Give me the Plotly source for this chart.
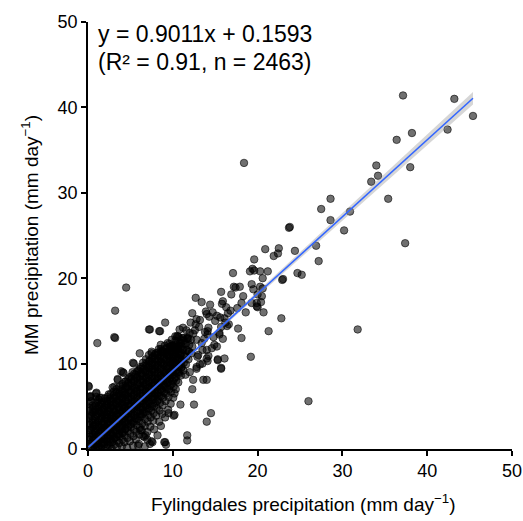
import numpy as np
import plotly.graph_objects as go

# ---- data (Fylingdales vs MM precipitation, mm/day) ----
# dense core of the cloud, as (Fylingdales, MM) pairs
core_pts = [
    (0.05,0.3),(0.15,1.1),(0.1,1.9),(0.2,2.8),(0.12,3.6),(0.25,4.5),(0.08,5.3),(0.3,6.2),(0.05,7.4),
    (0.4,0.1),(0.45,0.7),(0.5,1.5),(0.38,2.3),(0.55,3.1),(0.42,3.9),(0.6,4.8),(0.35,5.6),
    (0.7,0.4),(0.75,1.2),(0.8,2.0),(0.68,2.7),(0.85,3.5),(0.72,4.3),(0.9,5.1),(0.95,6.5),
    (1.0,0.1),(1.05,0.8),(1.1,1.6),(0.98,2.4),(1.15,3.2),(1.02,4.0),(1.2,4.7),(1.1,5.6),
    (1.3,0.3),(1.35,1.0),(1.4,1.9),(1.28,2.7),(1.45,3.5),(1.32,4.4),(1.5,5.2),(1.38,6.0),
    (1.6,0.0),(1.65,0.7),(1.7,1.4),(1.58,2.2),(1.75,3.0),(1.62,3.8),(1.8,4.6),(1.68,5.4),
    (1.9,0.5),(1.95,1.2),(2.0,2.0),(1.88,2.8),(2.05,3.6),(1.92,4.3),(2.1,5.1),(1.98,5.9),
    (2.2,0.1),(2.25,0.9),(2.3,1.7),(2.18,2.5),(2.35,3.3),(2.22,4.1),(2.4,4.8),(2.28,5.6),(2.45,6.4),
    (2.5,0.4),(2.55,1.2),(2.6,2.0),(2.48,2.8),(2.65,3.5),(2.52,4.3),(2.7,5.1),(2.58,5.9),
    (2.8,0.0),(2.85,0.8),(2.9,1.6),(2.78,2.4),(2.95,3.2),(2.82,3.9),(3.0,4.7),(2.88,5.5),(3.05,6.3),(2.9,7.2),
    (3.1,0.5),(3.15,1.3),(3.2,2.1),(3.08,2.9),(3.25,3.6),(3.12,4.4),(3.3,5.2),(3.18,6.0),(3.35,6.7),
    (3.4,0.2),(3.45,1.0),(3.5,1.8),(3.38,2.6),(3.55,3.4),(3.42,4.1),(3.6,4.9),(3.48,5.7),(3.65,6.5),(3.5,8.1),
    (3.7,0.7),(3.75,1.5),(3.8,2.3),(3.68,3.1),(3.85,3.8),(3.72,4.6),(3.9,5.4),(3.78,6.2),(3.95,7.0),
    (4.0,0.3),(4.05,1.1),(4.1,1.9),(3.98,2.7),(4.15,3.5),(4.02,4.3),(4.2,5.1),(4.08,5.9),(4.25,6.6),(4.1,7.4),(4.2,8.9),
    (4.3,0.8),(4.35,1.6),(4.4,2.4),(4.28,3.2),(4.45,4.0),(4.32,4.8),(4.5,5.6),(4.38,6.4),(4.55,7.2),(4.42,7.9),
    (4.6,0.2),(4.65,1.3),(4.7,2.1),(4.58,2.9),(4.75,3.7),(4.62,4.5),(4.8,5.3),(4.68,6.1),(4.85,6.9),(4.72,7.7),(4.9,8.4),
    (4.95,0.9),(5.0,1.8),(5.05,2.6),(4.98,3.4),(5.1,4.2),(5.02,5.0),(5.15,5.8),(5.08,6.6),(5.2,7.4),(5.12,8.2),(5.25,9.0),
    (5.3,0.4),(5.35,1.5),(5.4,2.3),(5.28,3.1),(5.45,3.9),(5.32,4.7),(5.5,5.5),(5.38,6.3),(5.55,7.1),(5.42,7.9),(5.6,8.7),
    (5.65,1.1),(5.7,2.0),(5.75,2.8),(5.62,3.6),(5.8,4.4),(5.68,5.2),(5.85,6.0),(5.72,6.8),(5.9,7.6),(5.78,8.4),(5.95,9.2),
    (6.0,0.6),(6.05,1.7),(6.1,2.5),(5.98,3.3),(6.15,4.1),(6.02,4.9),(6.2,5.7),(6.08,6.5),(6.25,7.3),(6.12,8.1),(6.3,8.9),(6.18,9.6),
    (6.35,2.2),(6.4,3.0),(6.28,3.8),(6.45,4.6),(6.32,5.4),(6.5,6.2),(6.38,7.0),(6.55,7.8),(6.42,8.6),(6.6,9.4),(6.48,10.1),
    (6.65,1.4),(6.7,2.7),(6.75,3.5),(6.62,4.3),(6.8,5.1),(6.68,5.9),(6.85,6.7),(6.72,7.5),(6.9,8.3),(6.78,9.1),(6.95,9.8),(6.82,10.5),
    (7.0,2.0),(7.05,3.2),(7.1,4.0),(6.98,4.8),(7.15,5.6),(7.02,6.4),(7.2,7.2),(7.08,8.0),(7.25,8.8),(7.12,9.6),(7.3,10.3),(7.18,11.0),
    (7.35,2.6),(7.4,3.7),(7.45,4.5),(7.32,5.3),(7.5,6.1),(7.38,6.9),(7.55,7.7),(7.42,8.5),(7.6,9.3),(7.48,10.0),(7.65,10.8),(7.5,11.4),
    (7.7,3.3),(7.75,4.2),(7.8,5.0),(7.68,5.8),(7.85,6.6),(7.72,7.4),(7.9,8.2),(7.78,9.0),(7.95,9.8),(7.82,10.5),(8.0,11.2),
    (8.05,3.9),(8.1,4.8),(8.15,5.6),(8.02,6.4),(8.2,7.2),(8.08,8.0),(8.25,8.8),(8.12,9.6),(8.3,10.3),(8.18,11.0),(8.35,11.7),
    (8.4,3.2),(8.45,4.5),(8.5,5.4),(8.38,6.2),(8.55,7.0),(8.42,7.8),(8.6,8.6),(8.48,9.4),(8.65,10.1),(8.52,10.8),(8.7,11.5),(8.58,12.2),
    (8.75,4.1),(8.8,5.1),(8.85,6.0),(8.72,6.8),(8.9,7.6),(8.78,8.4),(8.95,9.2),(8.82,10.0),(9.0,10.7),(8.88,11.4),(9.05,12.1),
    (9.1,3.7),(9.15,5.6),(9.2,6.5),(9.08,7.3),(9.25,8.1),(9.12,8.9),(9.3,9.7),(9.18,10.4),(9.35,11.1),(9.22,11.8),(9.4,12.4),
    (9.45,4.6),(9.5,6.1),(9.55,7.0),(9.42,7.8),(9.6,8.6),(9.48,9.4),(9.65,10.2),(9.52,10.9),(9.7,11.6),(9.58,12.3),
    (9.75,5.3),(9.8,6.7),(9.85,7.6),(9.72,8.4),(9.9,9.2),(9.78,10.0),(9.95,10.7),(9.82,11.4),(10.0,12.1),(9.88,12.8),
    (10.05,6.0),(10.1,7.3),(10.15,8.2),(10.02,9.0),(10.2,9.8),(10.08,10.6),(10.25,11.3),(10.12,12.0),(10.3,12.7),
    (10.35,7.0),(10.4,8.0),(10.45,8.9),(10.32,9.7),(10.5,10.5),(10.38,11.2),(10.55,11.9),(10.42,12.6),(10.6,13.2),
    (10.65,7.8),(10.7,8.8),(10.75,9.6),(10.62,10.4),(10.8,11.1),(10.68,11.8),(10.85,12.5),(10.72,13.1),
    (10.95,8.6),(11.0,9.5),(11.05,10.3),(10.92,11.0),(11.1,11.7),(10.98,12.4),(11.15,13.0),
    (11.25,9.2),(11.3,10.1),(11.35,10.9),(11.22,11.6),(11.4,12.3),(11.28,13.0),
    (11.55,9.9),(11.6,10.8),(11.65,11.6),(11.52,12.3),(11.7,13.0),
    (11.85,10.5),(11.9,11.4),(11.95,12.2),(11.82,12.9),(12.0,13.6),
    (12.2,11.2),(12.3,12.0),(12.15,12.8),(12.4,13.5),
]

# second, denser layer along the main band (rows: Fylingdales value, MM values)
band_rows = [
    (0.2, [0.6, 1.4, 2.2, 3.0, 3.9, 4.8]),
    (0.55, [0.2, 1.0, 1.8, 2.6, 3.4, 4.3, 5.1]),
    (0.9, [0.5, 1.3, 2.1, 2.9, 3.8, 4.6, 5.4]),
    (1.25, [0.2, 1.0, 1.8, 2.6, 3.4, 4.2, 5.0, 5.8]),
    (1.6, [0.4, 1.2, 2.0, 2.8, 3.6, 4.4, 5.2, 6.0]),
    (1.95, [0.8, 1.6, 2.4, 3.2, 4.0, 4.8, 5.6]),
    (2.3, [0.5, 1.3, 2.1, 2.9, 3.7, 4.5, 5.3, 6.1]),
    (2.65, [0.8, 1.6, 2.4, 3.2, 4.0, 4.8, 5.6, 6.4]),
    (3.0, [1.1, 1.9, 2.7, 3.5, 4.3, 5.1, 5.9, 6.7]),
    (3.35, [1.4, 2.2, 3.0, 3.8, 4.6, 5.4, 6.2, 7.0]),
    (3.7, [1.7, 2.5, 3.3, 4.1, 4.9, 5.7, 6.5, 7.3]),
    (4.05, [2.0, 2.8, 3.6, 4.4, 5.2, 6.0, 6.8, 7.6]),
    (4.4, [2.3, 3.1, 3.9, 4.7, 5.5, 6.3, 7.1, 7.9]),
    (4.75, [2.6, 3.4, 4.2, 5.0, 5.8, 6.6, 7.4, 8.2]),
    (5.1, [2.9, 3.7, 4.5, 5.3, 6.1, 6.9, 7.7, 8.5]),
    (5.45, [3.2, 4.0, 4.8, 5.6, 6.4, 7.2, 8.0, 8.8]),
    (5.8, [3.5, 4.3, 5.1, 5.9, 6.7, 7.5, 8.3, 9.1]),
    (6.15, [3.8, 4.6, 5.4, 6.2, 7.0, 7.8, 8.6, 9.4]),
    (6.5, [4.1, 4.9, 5.7, 6.5, 7.3, 8.1, 8.9, 9.7]),
    (6.85, [4.4, 5.2, 6.0, 6.8, 7.6, 8.4, 9.2, 10.0]),
    (7.2, [4.7, 5.5, 6.3, 7.1, 7.9, 8.7, 9.5, 10.3]),
    (7.55, [5.0, 5.8, 6.6, 7.4, 8.2, 9.0, 9.8, 10.6]),
    (7.9, [5.4, 6.2, 7.0, 7.8, 8.6, 9.4, 10.2, 11.0]),
    (8.25, [5.8, 6.6, 7.4, 8.2, 9.0, 9.8, 10.6, 11.3]),
    (8.6, [6.2, 7.0, 7.8, 8.6, 9.4, 10.2, 11.0, 11.7]),
    (8.95, [6.6, 7.4, 8.2, 9.0, 9.8, 10.6, 11.3]),
    (9.3, [7.0, 7.8, 8.6, 9.4, 10.2, 11.0, 11.7]),
    (9.65, [7.4, 8.2, 9.0, 9.8, 10.6, 11.4, 12.0]),
    (10.0, [7.9, 8.7, 9.5, 10.3, 11.1, 11.8]),
    (10.35, [8.4, 9.2, 10.0, 10.8, 11.6, 12.2]),
    (10.7, [9.0, 9.8, 10.6, 11.4, 12.1]),
    (11.05, [9.6, 10.4, 11.2, 12.0]),
]

# scattered points (x = Fylingdales, y = MM)
scatter_x = [
    37.15, 43.2, 45.4, 42.4, 38.2, 36.4, 34.0, 38.0, 34.2, 33.4, 28.6, 35.4, 27.5, 30.9,
    28.6, 23.7, 23.8, 30.2, 37.4, 26.9, 20.9, 22.5, 21.9, 22.4, 24.4, 27.2, 19.6, 19.1,
    19.6, 20.3, 21.2, 24.7, 25.2, 22.9, 20.6, 20.6, 20.0, 20.4, 20.0, 20.7, 22.8, 21.3,
    31.8, 19.2, 18.4, 26.0,
    17.1, 19.4, 15.7, 17.2, 17.9, 17.4, 16.9, 19.3, 19.5, 12.7, 13.4, 14.4, 15.9, 15.8,
    18.1, 19.3, 19.9, 18.3, 20.3, 20.5, 19.9, 12.3, 13.9, 14.0, 14.7, 15.2, 15.6, 16.1,
    16.5, 16.2, 16.4, 16.6, 15.0, 12.8, 13.2, 14.3, 14.2, 14.1, 12.7, 13.8, 14.1, 15.7,
    15.5, 17.7, 18.1, 10.8, 11.2, 11.6, 10.3, 11.2, 11.7, 12.8, 13.4, 13.5, 14.0, 14.6,
    14.9, 14.2, 15.9, 15.5, 15.2, 23.0, 15.3, 16.1, 15.7, 14.0, 14.1, 12.8, 12.4, 13.6,
    14.0, 12.3, 10.9, 12.5, 14.5, 14.0, 10.2, 10.1, 9.5, 10.2, 11.7, 11.7, 9.1, 7.5,
    15.3, 15.7, 12.8, 13.2, 12.0, 11.5, 12.9, 13.5,
    4.5, 3.2, 3.1, 3.2, 1.1, 7.3, 8.5, 9.1, 10.5, 6.1, 7.5, 8.8, 9.8, 5.4, 4.1, 3.5,
    3.1, 1.0, 0.1, 0.2, 5.3, 3.9, 0.3, 1.0,
    5.9, 6.7, 7.3, 9.2, 6.5, 7.0, 8.2, 6.8, 7.8, 8.6, 6.2, 7.6, 9.0, 8.4, 7.2,
    13.1, 12.6, 13.7, 14.8, 16.8, 17.6, 18.6, 16.3, 13.0, 11.9, 12.1,
]
scatter_y = [
    41.4, 41.0, 39.0, 37.4, 37.0, 36.2, 33.2, 33.0, 32.0, 31.3, 29.3, 29.3, 28.1, 27.8,
    26.8, 25.9, 26.0, 25.6, 24.1, 23.8, 23.4, 23.5, 22.6, 22.9, 23.2, 22.0, 22.2, 20.8,
    20.9, 20.8, 20.8, 20.6, 20.4, 19.8, 20.0, 18.8, 18.1, 17.2, 16.6, 16.0, 15.3, 13.8,
    14.0, 10.8, 33.5, 5.6,
    20.6, 21.1, 18.4, 19.0, 19.0, 18.9, 18.1, 19.3, 18.7, 17.7, 17.2, 16.9, 17.3, 17.0,
    17.1, 17.1, 17.1, 17.9, 19.0, 17.9, 16.7, 15.9, 16.1, 15.8, 16.0, 15.6, 15.4, 15.3,
    15.9, 14.8, 14.4, 14.6, 15.0, 15.2, 15.1, 15.5, 14.2, 13.8, 14.6, 13.7, 13.4, 14.3,
    13.4, 14.1, 13.0, 14.0, 14.2, 13.9, 13.2, 12.7, 13.0, 12.8, 12.4, 11.6, 11.6, 11.8,
    12.2, 10.9, 12.9, 13.6, 12.0, 19.9, 10.4, 10.6, 9.5, 10.6, 10.3, 9.6, 8.1, 8.1,
    8.1, 7.0, 5.2, 5.2, 4.2, 3.2, 6.5, 3.9, 4.2, 4.0, 1.6, 1.0, 0.8, 0.9,
    10.5, 9.4, 9.4, 9.9, 9.0, 8.7, 10.8, 10.0,
    18.9, 16.2, 13.1, 13.0, 12.4, 14.0, 13.8, 14.8, 13.2, 11.2, 11.2, 11.4, 12.0, 10.0, 9.0, 8.2,
    7.3, 6.6, 7.3, 6.1, 10.1, 9.1, 6.1, 6.1,
    0.4, 0.3, 0.6, 0.5, 1.5, 1.1, 1.6, 1.6, 2.3, 2.7, 2.2, 0.8, 0.8, 13.8, 14.0,
    14.3, 13.9, 12.9, 13.1, 16.2, 16.5, 16.0, 16.6, 11.0, 11.4, 14.8,
]

slope = 0.9011
intercept = 0.1593
eq_text = "y = 0.9011x + 0.1593"
r2_text = "(R² = 0.91, n = 2463)"
tick_vals = [0, 10, 20, 30, 40, 50]

# ---- assemble ----
band_x = [x for x, ys in band_rows for _ in ys]
band_y = [y for _, ys in band_rows for y in ys]
fyl = np.array([p[0] for p in core_pts] + band_x + scatter_x)
mm = np.array([p[1] for p in core_pts] + band_y + scatter_y)

xl = np.linspace(fyl.min(), fyl.max(), 100)
yl = intercept + slope * xl
resid = mm - (intercept + slope * fyl)
n = len(fyl)
sigma = np.sqrt(np.sum(resid ** 2) / (n - 2))
sxx = np.sum((fyl - fyl.mean()) ** 2)
se = sigma * np.sqrt(1.0 / n + (xl - fyl.mean()) ** 2 / sxx) * 0.6
lo = yl - 1.96 * se
hi = yl + 1.96 * se

fig = go.Figure()
fig.add_trace(go.Scatter(
    x=fyl, y=mm, mode="markers", cliponaxis=True,
    marker=dict(size=7.5, color="rgba(0,0,0,0.56)",
                line=dict(color="rgba(0,0,0,0.72)", width=0.8)),
    showlegend=False, hoverinfo="skip"))
fig.add_trace(go.Scatter(x=xl, y=lo, mode="lines", line=dict(width=0),
                         showlegend=False, hoverinfo="skip"))
fig.add_trace(go.Scatter(x=xl, y=hi, mode="lines", line=dict(width=0),
                         fill="tonexty", fillcolor="rgba(153,153,153,0.4)",
                         showlegend=False, hoverinfo="skip"))
fig.add_trace(go.Scatter(x=xl, y=yl, mode="lines",
                         line=dict(color="#3366FF", width=1.6),
                         showlegend=False, hoverinfo="skip"))

font = "Liberation Sans, Arial, sans-serif"
fig.add_annotation(x=0.9, y=48.65, xref="x", yref="y", text=eq_text,
                   showarrow=False, xanchor="left", yanchor="middle",
                   font=dict(family=font, size=23, color="black"))
fig.add_annotation(x=0.9, y=45.3, xref="x", yref="y", text=r2_text,
                   showarrow=False, xanchor="left", yanchor="middle",
                   font=dict(family=font, size=23, color="black"))

# axis titles placed as paper annotations
fig.add_annotation(x=(303 - 88) / 424, y=-(503 - 449) / 427, xref="paper", yref="paper",
                   text="Fylingdales precipitation (mm day<sup>−1</sup>)",
                   showarrow=False, xanchor="center", yanchor="middle",
                   font=dict(family=font, size=19, color="black"))
fig.add_annotation(x=-(88 - 30) / 424, y=(449 - 235) / 427, xref="paper", yref="paper",
                   text="MM precipitation (mm day<sup>−1</sup>)", textangle=-90,
                   showarrow=False, xanchor="center", yanchor="middle",
                   font=dict(family=font, size=19, color="black"))

axis_common = dict(range=[0, 50], tickmode="array", tickvals=tick_vals,
                   showgrid=False, zeroline=False, automargin=False,
                   showline=True, linecolor="black", linewidth=1.6,
                   ticks="outside", ticklen=5, tickwidth=1.6, tickcolor="black",
                   tickfont=dict(family=font, size=18, color="black"))
fig.update_xaxes(**axis_common)
fig.update_yaxes(**axis_common)

fig.update_layout(width=523, height=521,
                  margin=dict(l=88, r=11, t=22, b=72),
                  plot_bgcolor="white", paper_bgcolor="white")

fig.write_html("out.html", config={"displayModeBar": False},
               post_script="document.body.style.margin='0';document.body.style.overflow='hidden';")
